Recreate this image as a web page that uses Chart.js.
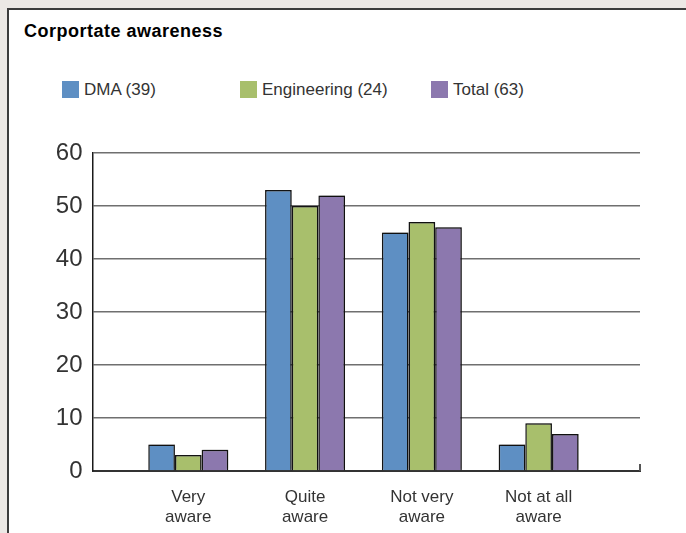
<!DOCTYPE html>
<html>
<head>
<meta charset="utf-8">
<script src="https://cdn.jsdelivr.net/npm/chart.js@4/dist/chart.umd.min.js"></script>
<style>
  body { margin: 0; background: #ece8e5; width: 686px; height: 533px; overflow: hidden; position: relative;
         font-family: "Liberation Sans", Arial, Helvetica, sans-serif; }
  #panel { position: absolute; left: 7px; top: 8px; width: 700px; height: 560px; background: #fff;
           border-left: 2px solid #3c3c3c; border-top: 2px solid #3c3c3c; }
  #title { position: absolute; left: 24px; top: 21px; font-size: 18px; font-weight: bold; color: #000;
           letter-spacing: 0.5px; }
  #legend { position: absolute; left: 0; top: 81px; }
  .item { position: absolute; top: 0; white-space: nowrap; font-size: 17px; color: #333; line-height: 17px; }
  .box { display: inline-block; width: 17px; height: 17px; vertical-align: top; margin-right: 5px; }
  #chart { position: absolute; left: 0; top: 0; }
</style>
</head>
<body>
<div id="panel"></div>
<div id="title">Corportate awareness</div>
<div id="legend"></div>
<canvas id="chart" width="686" height="533"></canvas>
<script>
// categories (each one split into its two label lines)
const categories = [["Very", "aware"], ["Quite", "aware"], ["Not very", "aware"], ["Not at all", "aware"]];
const seriesNames = ["DMA (39)", "Engineering (24)", "Total (63)"];
const dmaValues = [5, 53, 45, 5];
const engineeringValues = [3, 50, 47, 9];
const totalValues = [4, 52, 46, 7];
const yTicks = [0, 10, 20, 30, 40, 50, 60];

const colors = ["#5e8fc3", "#a8bf6c", "#8c78ae"];
const legendLeft = [62, 240, 431];

const toPoints = (values) => values.map((v, i) => ({ x: i + 1, y: v }));

// little tick at the right end of the x axis + soft shadow behind the bars
const extras = {
  id: "extras",
  beforeDatasetsDraw(chart) {
    const ctx = chart.ctx;
    ctx.save();
    ctx.shadowColor = "rgba(0,0,0,0.3)";
    ctx.shadowBlur = 2;
    ctx.shadowOffsetX = 1;
    ctx.shadowOffsetY = -1;
  },
  afterDatasetsDraw(chart) {
    chart.ctx.restore();
  },
  afterDraw(chart) {
    const ctx = chart.ctx;
    const a = chart.chartArea;
    ctx.save();
    ctx.strokeStyle = "#555";
    ctx.lineWidth = 2;
    ctx.beginPath();
    ctx.moveTo(a.right, a.bottom - 7);
    ctx.lineTo(a.right, a.bottom);
    ctx.stroke();
    ctx.restore();
  },
};

const chart = new Chart(document.getElementById("chart"), {
  type: "bar",
  data: {
    datasets: [
      { label: seriesNames[0], data: toPoints(dmaValues), backgroundColor: colors[0] },
      { label: seriesNames[1], data: toPoints(engineeringValues), backgroundColor: colors[1] },
      { label: seriesNames[2], data: toPoints(totalValues), backgroundColor: colors[2] },
    ],
  },
  options: {
    responsive: false,
    animation: false,
    layout: { padding: { top: 153, right: 46, bottom: 0, left: 0 } },
    datasets: {
      bar: {
        borderColor: "#151515",
        borderWidth: 1.5,
        categoryPercentage: 0.685,
        barPercentage: 1,
      },
    },
    plugins: { legend: { display: false }, tooltip: { enabled: false } },
    scales: {
      x: {
        type: "linear",
        min: 0.18,
        max: 4.868,
        offset: false,
        afterBuildTicks: (s) => { s.ticks = categories.map((c, i) => ({ value: i + 1 })); },
        afterFit: (s) => { s.height = 62; },
        grid: { display: false },
        border: { display: true, color: "#333", width: 2 },
        ticks: {
          callback: (v) => categories[v - 1],
          font: { family: "'Liberation Sans', Arial, sans-serif", size: 17, lineHeight: 1.2 },
          color: "#333",
          padding: 8,
          maxRotation: 0,
          autoSkip: false,
        },
      },
      y: {
        min: yTicks[0],
        max: yTicks[yTicks.length - 1],
        afterBuildTicks: (s) => { s.ticks = yTicks.map((v) => ({ value: v })); },
        afterFit: (s) => { s.width = 92.5; },
        grid: { color: "#6f6f6f", lineWidth: 1.5, drawTicks: false },
        border: { display: true, color: "#1a1a1a", width: 1.5 },
        ticks: {
          font: { family: "'Liberation Sans', Arial, sans-serif", size: 24 },
          color: "#333",
          padding: 10,
        },
      },
    },
  },
  plugins: [extras],
});

// html legend built from the datasets
const legend = document.getElementById("legend");
chart.data.datasets.forEach((ds, i) => {
  const item = document.createElement("div");
  item.className = "item";
  item.style.left = legendLeft[i] + "px";
  item.innerHTML = `<span class="box" style="background:${ds.backgroundColor}"></span>${ds.label}`;
  legend.appendChild(item);
});
</script>
</body>
</html>
